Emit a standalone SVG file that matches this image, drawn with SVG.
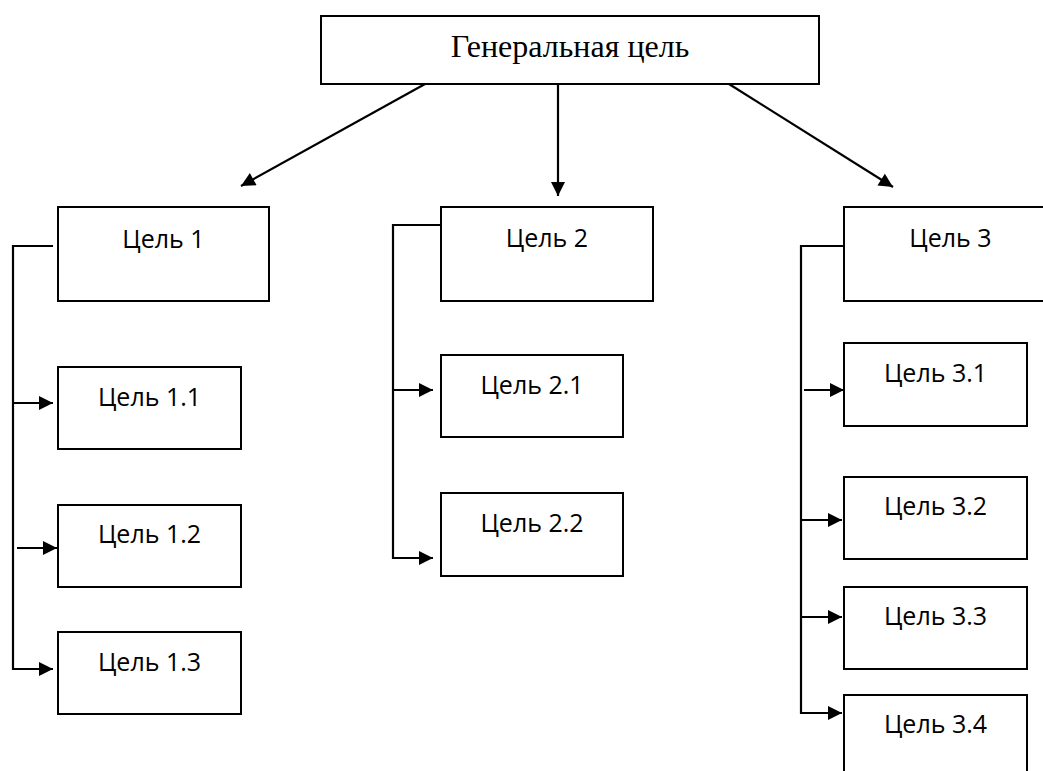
<svg xmlns="http://www.w3.org/2000/svg" width="1043" height="771" viewBox="0 0 1043 771">
<style>
.box{fill:#fff;stroke:#000;stroke-width:2}
.t{font-family:"Open Sans","Liberation Sans",sans-serif;font-size:25px;fill:#000;text-anchor:middle}
.ts{font-family:"Liberation Serif","Times New Roman",serif;font-size:32px;fill:#000;text-anchor:middle}
.c{fill:none;stroke:#000;stroke-width:2.2}
.a{marker-end:url(#ah)}
</style>
<defs>
<marker id="ah" viewBox="0 0 10 10" refX="10" refY="5" markerUnits="userSpaceOnUse" markerWidth="16" markerHeight="14" orient="auto">
<path d="M0,0 L10,5 L0,10 z" fill="#000"/>
</marker>
</defs>
<rect width="1043" height="771" fill="#fff"/>
<g id="connectors">
<line class="c a" x1="425" y1="84" x2="241" y2="186"/>
<line class="c a" x1="558" y1="84" x2="558" y2="196"/>
<line class="c a" x1="729" y1="84" x2="893" y2="187"/>
<path class="c a" d="M53,246 H13 V669 H53"/>
<line class="c a" x1="13" y1="403" x2="53" y2="403"/>
<line class="c a" x1="17" y1="548" x2="57" y2="548"/>
<path class="c a" d="M441,225 H393 V558 H433"/>
<line class="c a" x1="393" y1="390" x2="433" y2="390"/>
<path class="c a" d="M844,246 H801 V713 H842"/>
<line class="c a" x1="804" y1="390" x2="844" y2="390"/>
<line class="c a" x1="801" y1="520" x2="842" y2="520"/>
<line class="c a" x1="801" y1="617" x2="842" y2="617"/>
</g>
<g id="goal"><rect class="box" x="321" y="16" width="498" height="68"/><text class="ts" x="570" y="57">Генеральная цель</text></g>
<g id="g1"><rect class="box" x="58" y="207" width="211" height="94"/><text class="t" x="163.5" y="248">Цель 1</text></g>
<g id="g11"><rect class="box" x="58" y="367" width="183" height="82"/><text class="t" x="149.5" y="406">Цель 1.1</text></g>
<g id="g12"><rect class="box" x="58" y="505" width="183" height="82"/><text class="t" x="149.5" y="543">Цель 1.2</text></g>
<g id="g13"><rect class="box" x="58" y="632" width="183" height="82"/><text class="t" x="149.5" y="671">Цель 1.3</text></g>
<g id="g2"><rect class="box" x="441" y="207" width="212" height="94"/><text class="t" x="547" y="247">Цель 2</text></g>
<g id="g21"><rect class="box" x="441" y="355" width="182" height="82"/><text class="t" x="532" y="394">Цель 2.1</text></g>
<g id="g22"><rect class="box" x="441" y="493" width="182" height="83"/><text class="t" x="532" y="532">Цель 2.2</text></g>
<g id="g3"><rect class="box" x="844" y="207" width="213" height="94"/><text class="t" x="950.5" y="247">Цель 3</text></g>
<g id="g31"><rect class="box" x="844" y="343" width="183" height="83"/><text class="t" x="935.5" y="382">Цель 3.1</text></g>
<g id="g32"><rect class="box" x="844" y="477" width="183" height="82"/><text class="t" x="935.5" y="515">Цель 3.2</text></g>
<g id="g33"><rect class="box" x="844" y="587" width="183" height="82"/><text class="t" x="935.5" y="625">Цель 3.3</text></g>
<g id="g34"><rect class="box" x="844" y="695" width="183" height="82"/><text class="t" x="935.5" y="733">Цель 3.4</text></g>
</svg>
